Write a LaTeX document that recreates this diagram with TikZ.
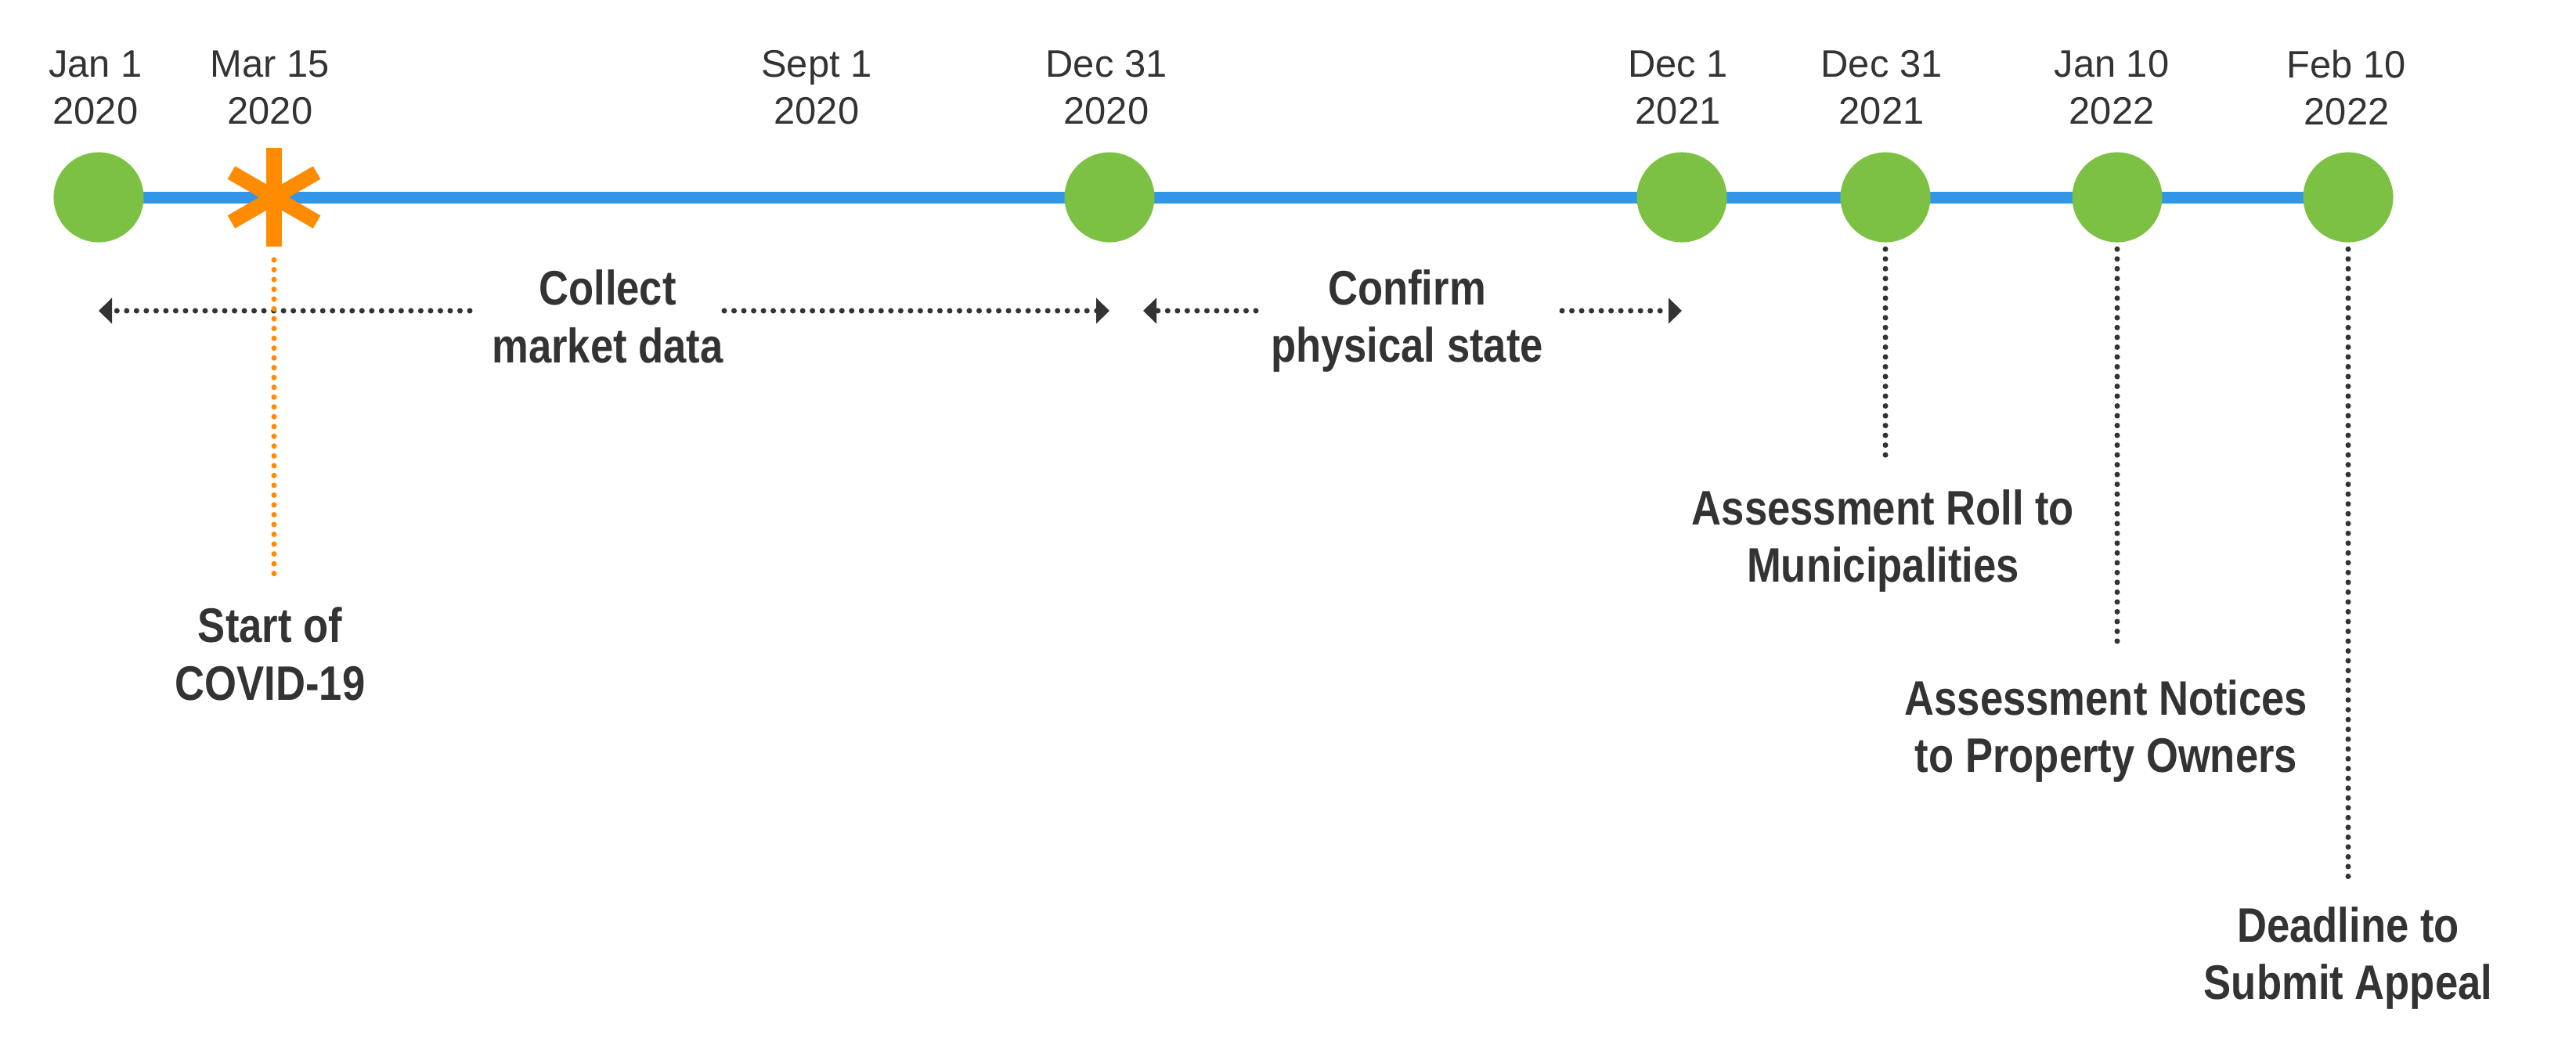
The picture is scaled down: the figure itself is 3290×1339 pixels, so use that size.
\documentclass[tikz,border=0pt]{standalone}
\usepackage{fontspec}
\setmainfont{Liberation Sans}
\newfontfamily\condfont{Liberation Sans}[FakeStretch=0.85]
\usetikzlibrary{arrows.meta,backgrounds}
\definecolor{tgreen}{HTML}{7CC143}
\definecolor{tblue}{HTML}{3296E8}
\definecolor{torange}{HTML}{FF8C00}
\definecolor{ttext}{HTML}{333333}
\begin{document}
\begin{tikzpicture}[x=0.01cm,y=-0.01cm,
  datelbl/.style={align=center, font=\fontsize{13.9}{17.07}\selectfont, text=ttext, inner sep=0pt},
  boldlbl/.style={align=center, font=\condfont\bfseries\fontsize{17.6}{21}\selectfont, text=ttext, inner sep=0pt},
  milestone/.style={circle, fill=tgreen, minimum size=1.15cm, inner sep=0pt},
  dotline/.style={draw=ttext, line width=2pt, line cap=round, dash pattern=on 0pt off 3.56pt},
  arr/.style={dotline, -{Triangle[length=0.17cm,width=0.32cm]}},
  astarm/.style={draw=torange, line width=0.19cm, line cap=butt},
]
\useasboundingbox (0,0) rectangle (3290,1339);

% milestones
\node[milestone] (j1)  at (126,252) {};
\node[milestone] (d20) at (1417,252) {};
\node[milestone] (n21) at (2148,252) {};
\node[milestone] (d21) at (2408,252) {};
\node[milestone] (j22) at (2704,252) {};
\node[milestone] (f22) at (2999,252) {};
\coordinate (ast) at (350,252);

\begin{scope}[on background layer]
  \draw[tblue, line width=0.15cm] (j1.center) -- (f22.center);
\end{scope}

% asterisk
\draw[astarm] (ast) ++(90:0.63cm) -- ++(270:1.26cm);
\draw[astarm] (ast) ++(30:0.63cm) -- ++(210:1.26cm);
\draw[astarm] (ast) ++(150:0.63cm) -- ++(330:1.26cm);

% date labels
\node[datelbl] (lj1)  at (122,112)  {Jan 1\\2020};
\node[datelbl] (lm15) at (345,112)  {Mar 15\\2020};
\node[datelbl] (ls1)  at (1043,112) {Sept 1\\2020};
\node[datelbl] (ld20) at (1413,112) {Dec 31\\2020};
\node[datelbl] (ln21) at (2143,112) {Dec 1\\2021};
\node[datelbl] (ld21) at (2403,112) {Dec 31\\2021};
\node[datelbl] (lj22) at (2697,112) {Jan 10\\2022};
\node[datelbl] (lf22) at (2997,112) {Feb 10\\2022};

% bold labels
\node[boldlbl] (collect)  at (776,404)   {Collect\\market data};
\node[boldlbl] (confirm)  at (1797,410)  {Confirm\\physical state};
\node[boldlbl] (covid)    at (345,835)   {Start of\\COVID-19};
\node[boldlbl] (roll)     at (2405,691)  {Assessment Roll to\\Municipalities};
\node[boldlbl] (notices)  at (2690,934)  {Assessment Notices\\to Property Owners};
\node[boldlbl] (deadline) at (2999,1224) {Deadline to\\Submit Appeal};

% span arrows
\coordinate (cL) at (600,397);
\coordinate (cR) at (925,397);
\coordinate (fL) at (1604,397);
\coordinate (fR) at (1995,397);
\coordinate (fLt) at (1460,397);
\draw[arr] (cL) -- (cL -| j1);
\draw[arr] (cR) -- (cR -| d20);
\draw[arr] (fL) -- (fLt);
\draw[arr] (fR) -- (fR -| n21);

% leader lines
\draw[dotline, draw=torange] (ast) ++(0,80) -- ++(0,413);
\draw[dotline] ([yshift=-0.08cm]d21.south) -- ++(0,266);
\draw[dotline] ([yshift=-0.08cm]j22.south) -- ++(0,504);
\draw[dotline] ([yshift=-0.08cm]f22.south) -- ++(0,804);
\end{tikzpicture}
\end{document}
